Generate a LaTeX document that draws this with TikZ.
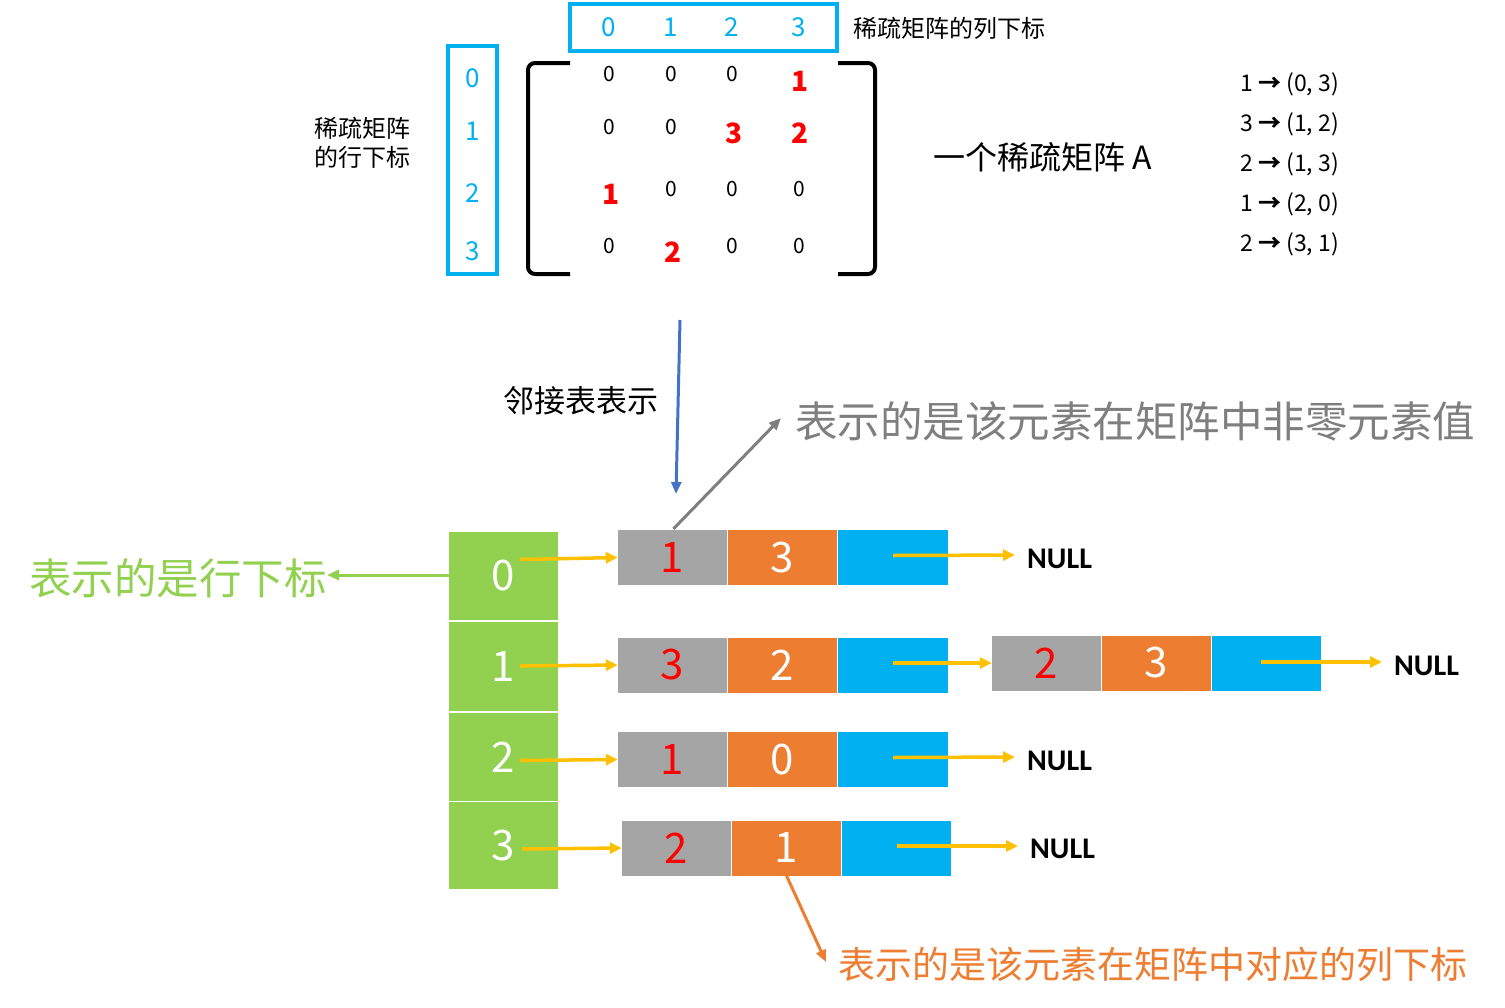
\documentclass[tikz,border=0pt]{standalone}
\usepackage{fontspec}
\setmainfont{Noto Sans CJK SC}
\newfontfamily\carlito{Carlito}
\usetikzlibrary{arrows.meta,calc}
\definecolor{cyanb}{HTML}{00B0F0}
\definecolor{redc}{HTML}{FF0000}
\definecolor{greenc}{HTML}{92D050}
\definecolor{grayc}{HTML}{A5A5A5}
\definecolor{orangec}{HTML}{ED7D31}
\definecolor{yellowc}{HTML}{FFC000}
\definecolor{bluearr}{HTML}{4472C4}
\definecolor{grayt}{HTML}{7F7F7F}
\newcommand{\myfs}[1]{\fontsize{#1}{#1}\selectfont}
\tikzset{
  idx/.style={text=cyanb, font=\myfs{26}, inner sep=0pt},
  zero/.style={font=\myfs{21}, inner sep=0pt},
  nz/.style={text=redc, font=\myfs{28}\bfseries, inner sep=0pt},
  gbox/.style={fill=greenc, minimum width=109pt, inner sep=0pt, text=white, font=\myfs{42}},
  cell/.style={minimum width=109pt, minimum height=55pt, inner sep=0pt, font=\myfs{42}},
  gcell/.style={cell, fill=grayc, text=redc},
  ocell/.style={cell, fill=orangec, text=white},
  bcell/.style={cell, fill=cyanb},
  yarr/.style={draw=yellowc, line width=3.5pt, -{Triangle[length=12pt,width=11pt]}},
  nulltxt/.style={font=\carlito\bfseries\myfs{30}, inner sep=0pt, anchor=west},
  lst/.style={font=\myfs{23}, inner sep=0pt, anchor=west},
  bigarr/.style={line width=3pt, -{Triangle[length=12pt,width=10pt]}},
  cbox/.style={draw=cyanb, line width=4pt},
  brk/.style={draw=black, line width=4pt, rounded corners=7pt}
}
\newcommand{\lar}{{\bfseries →}}
\begin{document}
\begin{tikzpicture}[x=1pt,y=-1pt]
\useasboundingbox (0,0) rectangle (1505,1007);
% index boxes
\draw[cbox] (570,4) rectangle (837,51);
\draw[cbox] (448,46) rectangle (497,274);
\node[idx] (ci0) at (609,27) {0};
\node[idx] (ci1) at (671,27) {1};
\node[idx] (ci2) at (732,27) {2};
\node[idx] (ci3) at (799,27) {3};
\node[idx] (ri0) at (473,78) {0};
\node[idx] (ri1) at (473,131) {1};
\node[idx] (ri2) at (473,193) {2};
\node[idx] (ri3) at (473,251) {3};
\node[font=\myfs{24}, inner sep=0pt, anchor=west] (coltxt) at (853,28) {稀疏矩阵的列下标};
\node[font=\fontsize{24}{29}\selectfont, inner sep=0pt, align=left] (rowtxt) at (362,143) {稀疏矩阵\\的行下标};
% brackets
\draw[brk] (570,63) -- (528,63) -- (528,274) -- (570,274);
\draw[brk] (838,63) -- (875,63) -- (875,274) -- (838,274);
% matrix
\node[zero] (m00) at (609,74) {0};
\node[zero] (m01) at (671,74) {0};
\node[zero] (m02) at (732,74) {0};
\node[nz]   (m03) at (800,81) {1};
\node[zero] (m10) at (609,127) {0};
\node[zero] (m11) at (671,127) {0};
\node[nz]   (m12) at (734,133) {3};
\node[nz]   (m13) at (800,133) {2};
\node[nz]   (m20) at (611,194) {1};
\node[zero] (m21) at (671,189) {0};
\node[zero] (m22) at (732,189) {0};
\node[zero] (m23) at (799,189) {0};
\node[zero] (m30) at (609,246) {0};
\node[nz]   (m31) at (673,252) {2};
\node[zero] (m32) at (732,246) {0};
\node[zero] (m33) at (799,246) {0};
\node[font=\myfs{32}, inner sep=0pt, anchor=west] (title) at (933,157) {一个稀疏矩阵 A};
% list
\node[lst] (l1) at (1240,84) {1 \lar{} (0, 3)};
\node[lst] (l2) at (1240,124) {3 \lar{} (1, 2)};
\node[lst] (l3) at (1240,164) {2 \lar{} (1, 3)};
\node[lst] (l4) at (1240,204) {1 \lar{} (2, 0)};
\node[lst] (l5) at (1240,244) {2 \lar{} (3, 1)};
% adjacency label
\node[font=\myfs{31}, inner sep=0pt, anchor=west] (adj) at (503,401) {邻接表表示};
\coordinate (bs) at (680,320);
\coordinate (be) at (676,494);
\draw[bigarr, draw=bluearr, fill=bluearr] (bs) -- (be);
% green heads
\node[gbox, minimum height=88pt] (g0) at (503.5,576) {0};
\node[gbox, minimum height=89pt] (g1) at (503.5,666.5) {1};
\node[gbox, minimum height=88pt] (g2) at (503.5,757) {2};
\node[gbox, minimum height=87pt] (g3) at (503.5,845.5) {3};
% row 0
\node[gcell] (c0a) at (672.5,557.5) {1};
\node[ocell] (c0b) at (782.5,557.5) {3};
\node[bcell, minimum width=110pt] (c0c) at (893,557.5) {};
% row 1
\node[gcell] (c1a) at (672.5,665) {3};
\node[ocell] (c1b) at (782.5,665) {2};
\node[bcell, minimum width=110pt] (c1c) at (893,665) {};
\node[gcell] (e1a) at (1046.5,663) {2};
\node[ocell] (e1b) at (1156.5,663) {3};
\node[bcell] (e1c) at (1266.5,663) {};
% row 2
\node[gcell] (c2a) at (672.5,759.5) {1};
\node[ocell] (c2b) at (782.5,759.5) {0};
\node[bcell, minimum width=110pt] (c2c) at (893,759.5) {};
% row 3
\node[gcell] (c3a) at (676.5,848) {2};
\node[ocell] (c3b) at (786.5,848) {1};
\node[bcell] (c3c) at (896.5,848) {};
% NULLs
\node[nulltxt] (n0) at (1027,559) {NULL};
\node[nulltxt] (n1) at (1394,666) {NULL};
\node[nulltxt] (n2) at (1027,761) {NULL};
\node[nulltxt] (n3) at (1030,849) {NULL};
% yellow pointers
\draw[yarr] ($(c0a.west -| g0.east)+(-38,2)$) -- (c0a.west);
\draw[yarr] ($(c1a.west -| g1.east)+(-38,1)$) -- (c1a.west);
\draw[yarr] ($(c2a.west -| g2.east)+(-38,1)$) -- (c2a.west);
\draw[yarr] ($(c3a.west -| g3.east)+(-36,1)$) -- (c3a.west);
\draw[yarr, shorten >=12pt] (c0c.center) ++(0,-2) -- (n0.west |- 0,555);
\draw[yarr] (c1c.center) ++(0,-2) -- (e1a.west);
\draw[yarr, shorten >=12pt] (c2c.center) ++(0,-2) -- (n2.west |- 0,757);
\draw[yarr, shorten >=12pt] (c3c.center) ++(0,-2) -- (n3.west |- 0,846);
\draw[yarr, shorten >=12pt] (e1c.center) ++(-6,-1) -- (n1.west |- 0,662);
% gray annotation
\node[font=\myfs{42.5}, text=grayt, inner sep=0pt, anchor=west] (gtxt) at (795,421) {表示的是该元素在矩阵中非零元素值};
\coordinate (ge) at (781,418);
\draw[bigarr, draw=grayt, fill=grayt] (c0a.north) ++(1,-1) -- (ge);
% green annotation
\node[font=\myfs{42.5}, text=greenc, inner sep=0pt, anchor=east] (lgtxt) at (327,578) {表示的是行下标};
\draw[bigarr, draw=greenc, fill=greenc] (g0.west |- 0,575) -- (lgtxt.east |- 0,575);
% orange annotation
\node[font=\myfs{37}, text=orangec, inner sep=0pt, anchor=west] (otxt) at (838,964) {表示的是该元素在矩阵中对应的列下标};
\coordinate (oe) at (826,962);
\draw[bigarr, draw=orangec, fill=orangec] (c3b.south) -- (oe);
\end{tikzpicture}
\end{document}
